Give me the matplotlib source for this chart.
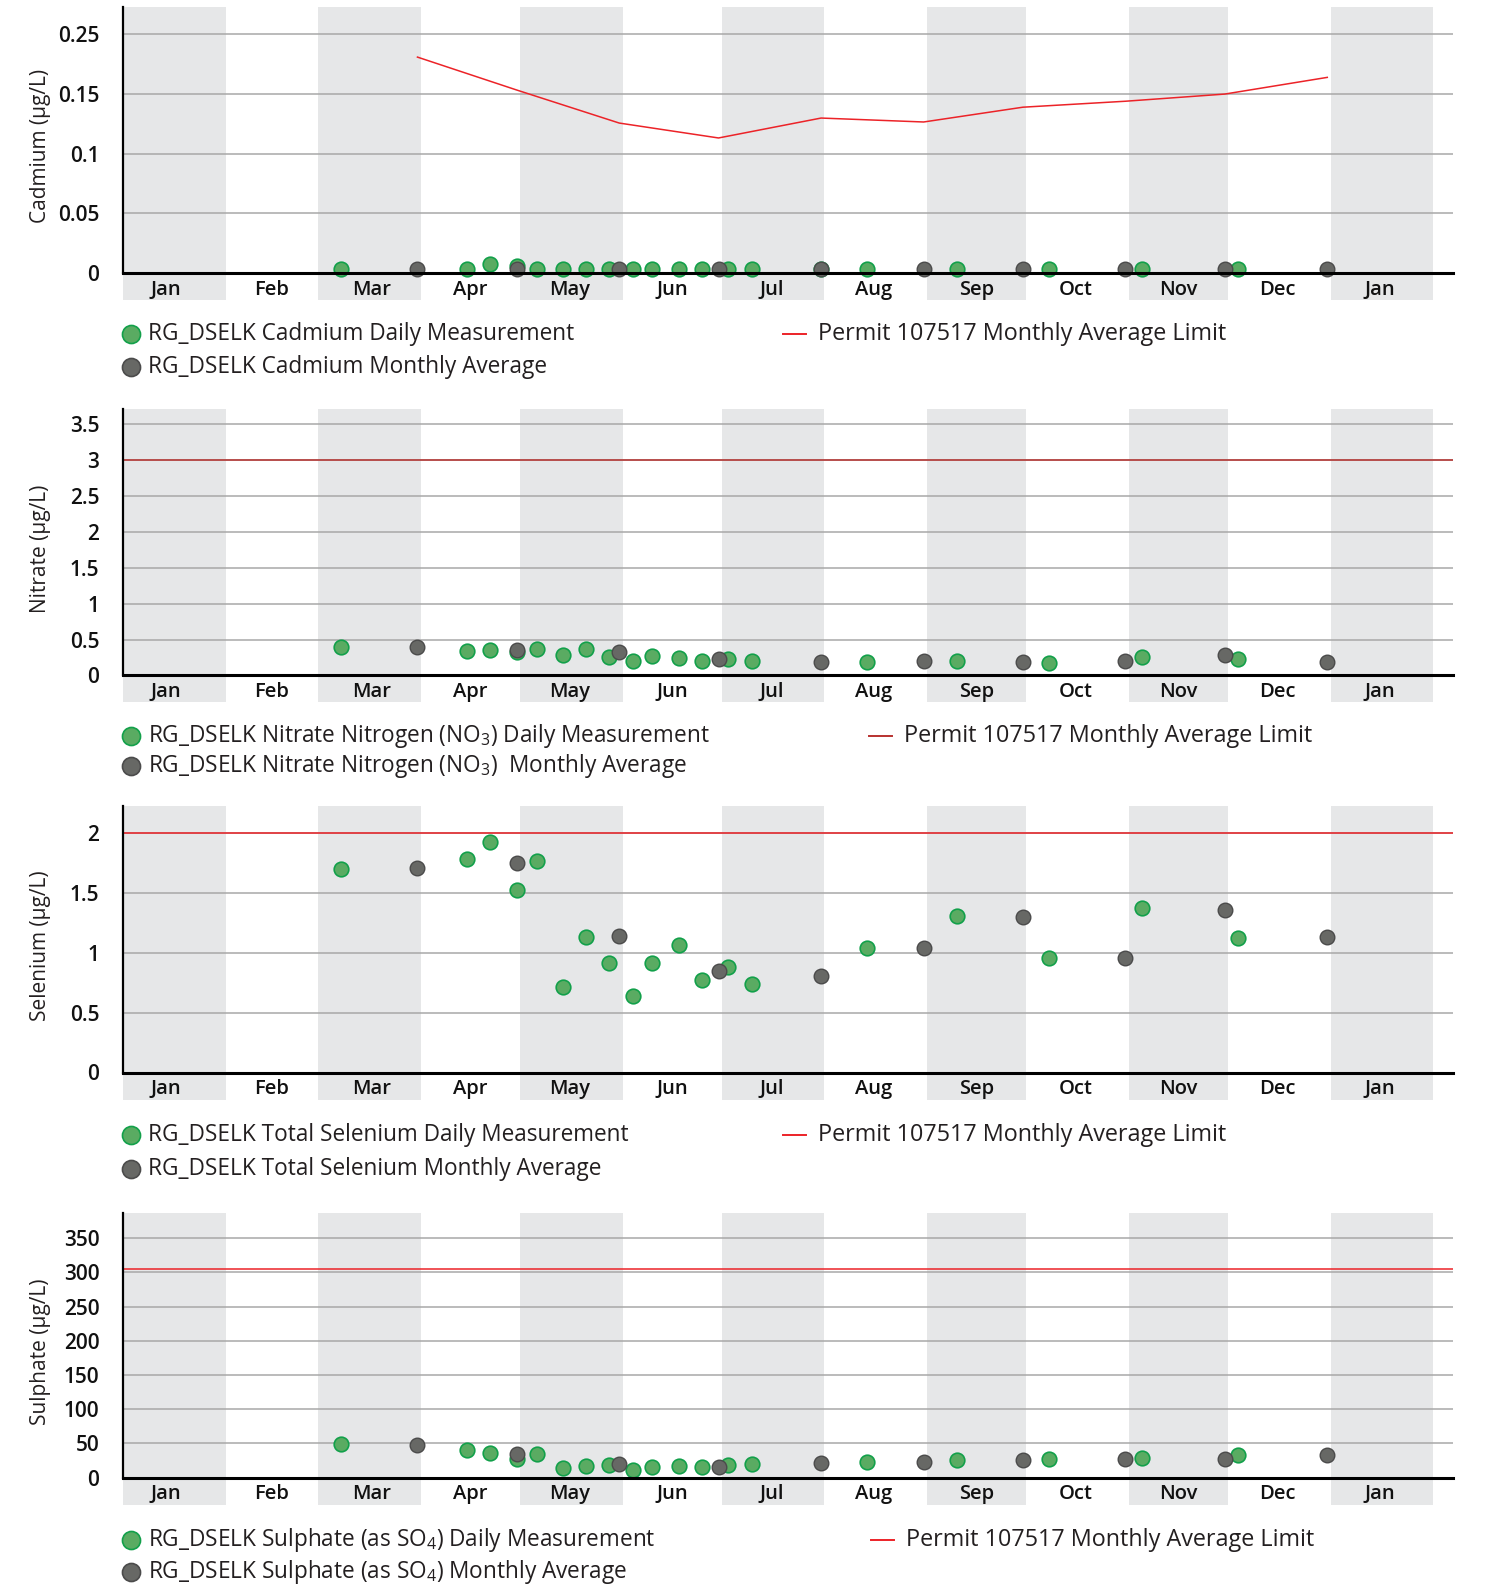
import matplotlib.pyplot as plt
from matplotlib.lines import Line2D
import pandas as pd

plt.rcParams['font.family'] = ['Open Sans', 'DejaVu Sans']
plt.rcParams['mathtext.default'] = 'regular'

YEAR = 2021

# sampling dates (month-day) for the daily measurements
sample_days = ['03-08', '04-15', '04-22', '04-30', '05-06', '05-14', '05-21', '05-28',
               '06-04', '06-10', '06-18', '06-25', '07-03', '07-10', '08-14', '09-10',
               '10-08', '11-05', '12-04']
cd_sample_days = ['03-08', '04-15', '04-22', '04-30', '05-06', '05-14', '05-21', '05-28',
                  '06-04', '06-10', '06-18', '06-25', '07-03', '07-10', '07-31', '08-14',
                  '09-10', '10-08', '11-05', '12-04']
# monthly averages / permit limits are reported at month end
avg_days = ['03-31', '04-30', '05-31', '06-30', '07-31', '08-31', '09-30', '10-31', '11-30', '12-31']

cd_daily = [0.003, 0.003, 0.0073, 0.0059, 0.003, 0.003, 0.003, 0.003, 0.003, 0.003,
            0.003, 0.003, 0.003, 0.003, 0.003, 0.003, 0.003, 0.003, 0.003, 0.003]
cd_monthly = [0.003, 0.003, 0.003, 0.003, 0.003, 0.003, 0.003, 0.003, 0.003, 0.003]
cd_limit = [0.181, 0.1534, 0.1257, 0.1132, 0.1299, 0.1266, 0.139, 0.144, 0.150, 0.164]

no3_daily = [0.39, 0.343, 0.352, 0.333, 0.367, 0.286, 0.362, 0.262, 0.205, 0.267,
             0.238, 0.205, 0.233, 0.20, 0.19, 0.205, 0.171, 0.257, 0.233]
no3_monthly = [0.40, 0.352, 0.333, 0.224, 0.186, 0.195, 0.19, 0.195, 0.281, 0.186]
no3_limit = 3

se_daily = [1.704, 1.79, 1.928, 1.528, 1.771, 0.715, 1.13, 0.914, 0.644, 0.914,
            1.064, 0.776, 0.881, 0.740, 1.044, 1.308, 0.961, 1.375, 1.125]
se_monthly = [1.715, 1.749, 1.141, 0.851, 0.811, 1.044, 1.30, 0.958, 1.358, 1.131]
se_limit = 2

so4_daily = [48.5, 40.2, 36.3, 26.6, 33.9, 14.4, 17.3, 18.3, 11.5, 15.9,
             17.3, 15.4, 18.3, 20.3, 22.7, 25.6, 26.6, 28.5, 32.9]
so4_monthly = [48, 33.9, 19.8, 15.9, 21.2, 22.7, 25.6, 26.6, 27.6, 32.9]
so4_limit = 305

month_labels = ['Jan', 'Feb', 'Mar', 'Apr', 'May', 'Jun', 'Jul', 'Aug', 'Sep', 'Oct', 'Nov', 'Dec', 'Jan']
month_label_days = ['2021-01-14', '2021-02-15', '2021-03-17', '2021-04-16', '2021-05-16', '2021-06-16',
                    '2021-07-16', '2021-08-16', '2021-09-16', '2021-10-16', '2021-11-16', '2021-12-16',
                    '2022-01-16']


def to_dates(days, year=YEAR):
    return pd.to_datetime([f'{year}-{d}' for d in days])


W, H = 1489, 1585
fig = plt.figure(figsize=(W / 100, H / 100), dpi=100)

GREEN, GREEN_EDGE = '#5aab62', '#12a04a'
GREY, GREY_EDGE = '#676865', '#4b4b4b'
BAND = '#e6e7e8'
TEXT = '#231f20'

x_start = pd.Timestamp(f'{YEAR}-01-01')
x_end = x_start + pd.Timedelta(days=402)
band_starts = pd.to_datetime([f'{YEAR}-01-01', f'{YEAR}-03-01', f'{YEAR}-05-01', f'{YEAR}-07-01',
                              f'{YEAR}-09-01', f'{YEAR}-11-01', f'{YEAR + 1}-01-01'])

panels = [
    dict(top=7, bottom=273, ylabel='Cadmium (µg/L)', ylim=0.223,
         ticks=[0, 0.05, 0.1, 0.15, 0.2], ticklabels=['0', '0.05', '0.1', '0.15', '0.25'],
         daily_x=cd_sample_days, daily=cd_daily, monthly=cd_monthly, limit=cd_limit,
         limit_color='#ec2328',
         labels=['RG_DSELK Cadmium Daily Measurement', 'RG_DSELK Cadmium Monthly Average'],
         rows=(334, 367), red_x=783),
    dict(top=409, bottom=675.5, ylabel='Nitrate (µg/L)', ylim=3.71,
         ticks=[0, 0.5, 1, 1.5, 2, 2.5, 3, 3.5], ticklabels=['0', '0.5', '1', '1.5', '2', '2.5', '3', '3.5'],
         daily_x=sample_days, daily=no3_daily, monthly=no3_monthly, limit=no3_limit,
         limit_color='#b8312f',
         labels=['RG_DSELK Nitrate Nitrogen (NO$_3$) Daily Measurement',
                 'RG_DSELK Nitrate Nitrogen (NO$_3$)  Monthly Average'],
         rows=(736, 766), red_x=869),
    dict(top=806, bottom=1072.5, ylabel='Selenium (µg/L)', ylim=2.23,
         ticks=[0, 0.5, 1, 1.5, 2], ticklabels=['0', '0.5', '1', '1.5', '2'],
         daily_x=sample_days, daily=se_daily, monthly=se_monthly, limit=se_limit,
         limit_color='#ec2328',
         labels=['RG_DSELK Total Selenium Daily Measurement', 'RG_DSELK Total Selenium Monthly Average'],
         rows=(1135, 1169), red_x=783),
    dict(top=1213, bottom=1477.5, ylabel='Sulphate (µg/L)', ylim=386.7,
         ticks=[0, 50, 100, 150, 200, 250, 300, 350],
         ticklabels=['0', '50', '100', '150', '200', '250', '300', '350'],
         daily_x=sample_days, daily=so4_daily, monthly=so4_monthly, limit=so4_limit,
         limit_color='#ec2328',
         labels=['RG_DSELK Sulphate (as SO$_4$) Daily Measurement',
                 'RG_DSELK Sulphate (as SO$_4$) Monthly Average'],
         rows=(1540, 1572), red_x=871),
]

ax_left, ax_right = 123, 1453

for p in panels:
    ax = fig.add_axes([ax_left / W, 1 - p['bottom'] / H,
                       (ax_right - ax_left) / W, (p['bottom'] - p['top']) / H])
    ax.set_xlim(x_start, x_end)
    ax.set_ylim(0, p['ylim'])

    # alternating month bands, continued down under the axis behind the month names
    strip = 27 / (p['bottom'] - p['top'])
    for s in band_starts:
        e = s + pd.offsets.MonthBegin(1)
        ax.axvspan(s, e, ymin=-strip, ymax=1, color=BAND, lw=0, zorder=0, clip_on=False)

    for t in p['ticks'][1:]:
        ax.axhline(t, color='#a8a8a8', lw=1.1, zorder=1)

    avg_x = to_dates(avg_days)
    if isinstance(p['limit'], list):
        ax.plot(avg_x, p['limit'], color=p['limit_color'], lw=1.1, zorder=2)
    else:
        ax.axhline(p['limit'], color=p['limit_color'], lw=1.1, zorder=2)

    ax.plot(to_dates(p['daily_x']), p['daily'], 'o', ms=10.5, mfc=GREEN, mec=GREEN_EDGE,
            mew=1.2, zorder=3, clip_on=False)
    ax.plot(avg_x, p['monthly'], 'o', ms=10.5, mfc=GREY, mec=GREY_EDGE,
            mew=1.0, zorder=4, clip_on=False)

    ax.set_yticks(p['ticks'])
    ax.set_yticklabels(p['ticklabels'])
    ax.set_xticks(pd.to_datetime(month_label_days))
    ax.set_xticklabels(month_labels)
    ax.tick_params(axis='y', length=0, pad=17, labelsize=15, labelcolor='#111111')
    ax.tick_params(axis='x', length=0, pad=5, labelsize=14.5, labelcolor='#111111')
    for lab in ax.get_xticklabels() + ax.get_yticklabels():
        lab.set_fontweight('semibold')

    ax.set_ylabel(p['ylabel'], fontsize=15, color=TEXT)
    ax.yaxis.label.set_va('center')
    ax.yaxis.set_label_coords((40 - ax_left) / (ax_right - ax_left), 0.477)

    for side in ['top', 'right']:
        ax.spines[side].set_visible(False)
    ax.spines['left'].set_linewidth(1.6)
    ax.spines['bottom'].set_linewidth(2.2)
    ax.spines['left'].set_zorder(5)
    ax.spines['bottom'].set_zorder(5)
    ax.patch.set_visible(False)

    # legend keys under each panel
    r1, r2 = p['rows']
    for (yy, fc, ec, lab) in [(r1, GREEN, GREEN_EDGE, p['labels'][0]),
                              (r2, GREY, GREY_EDGE, p['labels'][1])]:
        fig.add_artist(Line2D([130.5 / W], [1 - yy / H], marker='o', ms=13, mfc=fc, mec=ec,
                              mew=1.2, ls='none'))
        fig.text(147.5 / W, 1 - yy / H, lab, fontsize=16.3, color=TEXT, va='center', ha='left')
    rx = p['red_x']
    fig.add_artist(Line2D([rx / W, (rx + 23) / W], [1 - r1 / H, 1 - r1 / H],
                          color=p['limit_color'], lw=1.4))
    fig.text((rx + 35) / W, 1 - r1 / H, 'Permit 107517 Monthly Average Limit',
             fontsize=16.8, color=TEXT, va='center', ha='left')

fig.savefig('out.png', dpi=100)
